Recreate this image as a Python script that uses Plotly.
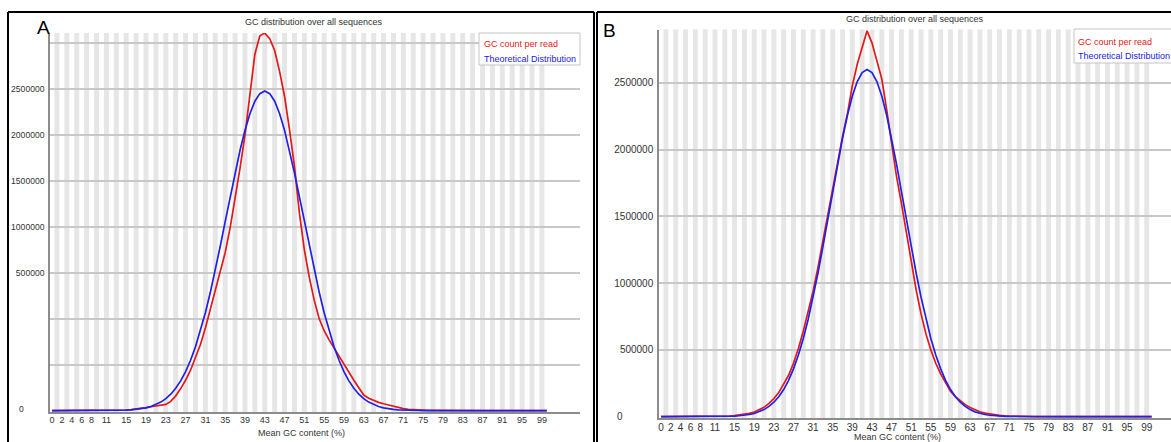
import plotly.graph_objects as go

# ---- data -------------------------------------------------------------
gc_bins = list(range(101))  # mean GC content (%) categories 0..100

x_tick_vals = [0, 2, 4, 6, 8, 11, 15, 19, 23, 27, 31, 35, 39, 43, 47, 51,
               55, 59, 63, 67, 71, 75, 79, 83, 87, 91, 95, 99]

# Sample A
a_gc_count = [
    0, 0, 0, 0, 0, 0, 0, 0, 0, 0, 500, 1000, 1500,
    2500, 4000, 7000, 11000, 16000, 23000, 33000, 42000, 50000, 58000,
    68000, 100000, 160000, 240000, 330000, 440000, 570000, 720000, 900000,
    1100000, 1300000, 1490000, 1720000, 1990000, 2300000, 2640000, 3000000,
    3450000, 3880000, 4080000, 4110000, 4050000, 3920000, 3690000, 3420000,
    3060000, 2660000, 2150000, 1750000, 1450000, 1200000, 1000000, 870000,
    770000, 680000, 600000, 500000, 410000, 330000, 250000, 170000, 135000,
    110000, 90000, 75000, 60000, 45000, 32000, 22000, 15000, 10000, 7000,
    5000, 3000, 2000, 1000,
    0, 0, 0, 0, 0, 0, 0, 0, 0, 0, 0, 0, 0, 0, 0, 0, 0, 0, 0, 0, 0, 0,
]
a_theoretical = [
    0, 0, 0, 0, 0, 0, 0, 0, 100, 260, 450, 770, 1300,
    2100, 3500, 5500, 8700, 13500, 20500, 30600, 45000, 65000, 93000,
    130000, 179000, 243000, 324000, 425000, 548000, 695000, 868000, 1066000,
    1288000, 1530000, 1789000, 2057000, 2327000, 2589000, 2834000, 3051000,
    3232000, 3368000, 3451000, 3480000, 3451000, 3368000, 3232000, 3051000,
    2834000, 2589000, 2327000, 2057000, 1789000, 1530000, 1288000, 1066000,
    868000, 695000, 548000, 425000, 324000, 243000, 179000, 130000, 93000,
    65000, 45000, 30600, 20500, 13500, 8700, 5500, 3500, 2100, 1300,
    770, 450, 260, 100,
    0, 0, 0, 0, 0, 0, 0, 0, 0, 0, 0, 0, 0, 0, 0, 0, 0, 0, 0, 0, 0, 0,
]
a_y_tick_vals = [500000, 1000000, 1500000, 2000000, 2500000, 3000000, 3500000, 4000000]
a_y_tick_text = ["", "", "500000", "1000000", "1500000", "2000000", "2500000", ""]

# Sample B
b_gc_count = [
    0, 0, 0, 0, 0, 0, 0, 0, 0, 0, 0,
    1000, 2000, 3000, 5000, 8000, 12000, 18000, 25000, 35000, 50000,
    70000, 100000, 135000, 180000, 240000, 310000, 400000, 510000, 640000,
    780000, 940000, 1120000, 1320000, 1520000, 1720000, 1920000, 2100000,
    2270000, 2480000, 2640000, 2770000, 2890000, 2800000, 2660000, 2530000,
    2300000, 2030000, 1800000, 1600000, 1380000, 1150000, 950000, 770000,
    620000, 500000, 400000, 320000, 250000, 190000, 150000, 120000, 90000,
    68000, 50000, 37000, 27000, 20000, 14000, 10000, 7000, 5000, 3000,
    2000, 1000,
    0, 0, 0, 0, 0, 0, 0, 0, 0, 0, 0, 0, 0, 0, 0, 0, 0, 0, 0, 0, 0, 0, 0,
    0, 0, 0,
]
b_theoretical = [
    0, 0, 0, 0, 0, 0, 0, 0, 0, 0, 0,
    540, 930, 1560, 2600, 4200, 6700, 10500, 16000, 24000, 36000,
    53000, 77000, 108000, 149000, 203000, 272000, 358000, 462000, 586000,
    730000, 895000, 1076000, 1273000, 1479000, 1688000, 1893000, 2086000,
    2258000, 2402000, 2510000, 2577000, 2600000, 2577000, 2510000, 2402000,
    2258000, 2086000, 1893000, 1688000, 1479000, 1273000, 1076000, 895000,
    730000, 586000, 462000, 358000, 272000, 203000, 149000, 108000, 77000,
    53000, 36000, 24000, 16000, 10500, 6700, 4200, 2600, 1560, 930, 540,
    0, 0, 0, 0, 0, 0, 0, 0, 0, 0, 0, 0, 0, 0, 0, 0, 0, 0, 0, 0, 0, 0, 0,
    0, 0, 0, 0,
]
b_y_tick_vals = [500000, 1000000, 1500000, 2000000, 2500000]
b_y_tick_text = ["500000", "1000000", "1500000", "2000000", "2500000"]

series_names = ["GC count per read", "Theoretical Distribution"]

# ---- styling ------------------------------------------------------------
W, H = 1171, 442
RED = "rgb(228,24,24)"
BLUE = "rgb(32,32,230)"
STRIPE = "#e6e6e6"
GRID = "#c8c8c8"
AXIS = "#8c8c8c"
TEXT = "#333333"
FONT = "Liberation Sans"


def px(xp):
    return xp / W


def py(yp):
    return 1 - yp / H


fig = go.Figure()

panels = [
    dict(key="", counts=a_gc_count, theo=a_theoretical,
         xdom=(50, 580), ydom=(412, 33), xr=(-0.4, 106.7), yr=(-15000, 4111000),
         yt=a_y_tick_vals, ytt=a_y_tick_text, yfs=8.6, xfs=9, xstand=-2,
         zero=(22, 410), title=(314, 22), xtitle=(301, 433),
         legbox=(479, 33, 580, 65), leg1=(482, 44), leg2=(482, 59),
         letter="A", letter_pos=(43, 27)),
    dict(key="2", counts=b_gc_count, theo=b_theoretical,
         xdom=(659, 1171), ydom=(418, 29.5), xr=(-0.41, 103.95), yr=(-10000, 2900000),
         yt=b_y_tick_vals, ytt=b_y_tick_text, yfs=10, xfs=10, xstand=-1,
         zero=(620, 418), title=(915, 19), xtitle=(897, 437),
         legbox=(1074, 29, 1176, 63), leg1=(1076, 42), leg2=(1076, 56),
         letter="B", letter_pos=(609, 31)),
]

shapes = []
annotations = []

for p in panels:
    k = p["key"]
    xa, ya = "x" + k, "y" + k
    fig.add_trace(go.Scatter(x=gc_bins, y=p["counts"], mode="lines", name=series_names[0],
                             line=dict(color=RED, width=1.7), xaxis=xa, yaxis=ya,
                             showlegend=False))
    fig.add_trace(go.Scatter(x=gc_bins, y=p["theo"], mode="lines", name=series_names[1],
                             line=dict(color=BLUE, width=1.7), xaxis=xa, yaxis=ya,
                             showlegend=False))

    fig.update_layout(**{
        "xaxis" + k: dict(
            domain=[px(p["xdom"][0]), px(p["xdom"][1])], range=list(p["xr"]),
            anchor=ya, tickmode="array", tickvals=x_tick_vals,
            ticktext=[str(v) for v in x_tick_vals], showgrid=False, zeroline=False,
            showline=True, linecolor=AXIS, linewidth=1.5, ticks="", ticklen=0,
            ticklabelstandoff=p["xstand"],
            tickfont=dict(family=FONT, size=p["xfs"], color=TEXT),
        ),
        "yaxis" + k: dict(
            domain=[py(p["ydom"][0]), py(p["ydom"][1])], range=list(p["yr"]),
            anchor=xa, tickmode="array", tickvals=p["yt"], ticktext=p["ytt"],
            showgrid=True, gridcolor=GRID, gridwidth=1.5, zeroline=False,
            showline=True, linecolor=AXIS, linewidth=1.5, ticks="outside", ticklen=2,
            tickcolor="rgba(0,0,0,0)", tickfont=dict(family=FONT, size=p["yfs"], color=TEXT),
        ),
    })

    # alternating light-grey bands behind every other GC bin
    for b in gc_bins:
        if b % 2 == 1:
            shapes.append(dict(type="rect", xref=xa, yref=ya + " domain",
                               x0=b - 0.5, x1=b + 0.5, y0=0, y1=1,
                               fillcolor=STRIPE, line=dict(width=0), layer="below"))

    # legend box
    x0, y0, x1, y1 = p["legbox"]
    shapes.append(dict(type="rect", xref="paper", yref="paper",
                       x0=px(x0), x1=px(x1), y0=py(y1), y1=py(y0),
                       fillcolor="white", line=dict(color="#c4c4c4", width=1), layer="above"))
    annotations.append(dict(text=series_names[0], x=px(p["leg1"][0]), y=py(p["leg1"][1]),
                            xref="paper", yref="paper", xanchor="left", yanchor="middle",
                            showarrow=False, font=dict(family=FONT, size=9, color=RED)))
    annotations.append(dict(text=series_names[1], x=px(p["leg2"][0]), y=py(p["leg2"][1]),
                            xref="paper", yref="paper", xanchor="left", yanchor="middle",
                            showarrow=False, font=dict(family=FONT, size=9, color=BLUE)))

    # titles and labels
    annotations.append(dict(text="GC distribution over all sequences",
                            x=px(p["title"][0]), y=py(p["title"][1]), xref="paper", yref="paper",
                            xanchor="center", yanchor="middle", showarrow=False,
                            font=dict(family=FONT, size=9, color=TEXT)))
    annotations.append(dict(text="Mean GC content (%)",
                            x=px(p["xtitle"][0]), y=py(p["xtitle"][1]), xref="paper", yref="paper",
                            xanchor="center", yanchor="middle", showarrow=False,
                            font=dict(family=FONT, size=9, color=TEXT)))
    annotations.append(dict(text="0", x=px(p["zero"][0]), y=0, xref="paper", yref=ya,
                            xanchor="center", yanchor="middle", showarrow=False,
                            yshift=(py(p["zero"][1]) - py(p["ydom"][0])) * H,
                            font=dict(family=FONT, size=p["yfs"], color=TEXT)))
    annotations.append(dict(text=p["letter"], x=px(p["letter_pos"][0]), y=py(p["letter_pos"][1]),
                            xref="paper", yref="paper", xanchor="center", yanchor="middle",
                            showarrow=False, font=dict(family=FONT, size=19, color="black")))

# panel frames
frame = dict(color="black", width=2)
for (xa0, ya0, xa1, ya1) in [(8, 12, 8, 442), (8, 12, 594, 12), (594, 12, 594, 442),
                             (597, 12, 597, 442), (597, 12, 1171, 12)]:
    shapes.append(dict(type="line", xref="paper", yref="paper",
                       x0=px(xa0), x1=px(xa1), y0=py(ya0), y1=py(ya1), line=frame, layer="above"))

fig.update_layout(width=W, height=H, margin=dict(l=0, r=0, t=0, b=0),
                  paper_bgcolor="white", plot_bgcolor="white",
                  shapes=shapes, annotations=annotations, showlegend=False)

fig.write_html("out.html")
